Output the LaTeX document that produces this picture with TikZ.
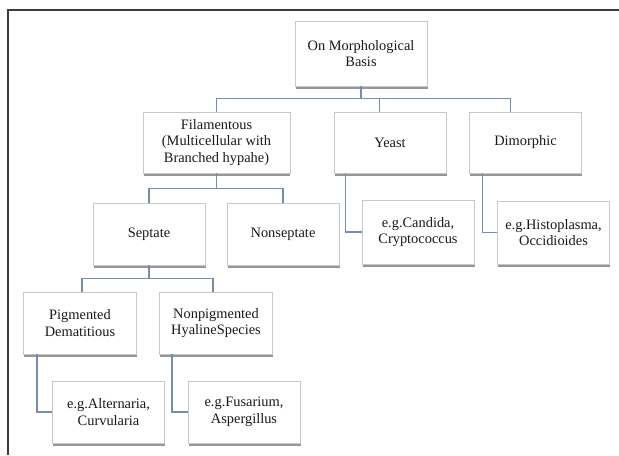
\documentclass[tikz,border=0pt]{standalone}
\usepackage{fontspec}
\setmainfont{Liberation Serif}
\usepackage{xcolor}
\usetikzlibrary{calc,shadows}

\definecolor{linkcol}{RGB}{118,142,172}
\definecolor{framecol}{RGB}{60,60,60}
\definecolor{edgecol}{RGB}{200,200,200}

\tikzset{
  box/.style={draw=edgecol, fill=white, align=center, inner sep=2pt,
    minimum width=84pt, minimum height=46.5pt, text=black!90,
    font=\fontsize{10.8}{12.6}\selectfont,
    drop shadow={shadow xshift=0.4pt, shadow yshift=-2pt, fill=black!75, opacity=0.55}},
  link/.style={draw=linkcol, line width=0.9pt}
}

\begin{document}
\begin{tikzpicture}[x=0.75pt,y=0.75pt,yscale=-1,xscale=1]
	\useasboundingbox (0,0) rectangle (619,455);
	
	%Shape: Frame
	\draw [framecol, line width=1.3pt] (8,455) -- (8,10) -- (619,10) ;
	
	% Text Node
	\node [box, minimum width=99pt, minimum height=49pt] (root) at (361,53.5) {On Morphological\\Basis};
	% Text Node
	\node [box, minimum width=110pt, minimum height=46pt] (fil) at (216.5,142.5) {Filamentous\\(Multicellular with\\Branched hypahe)};
	% Text Node
	\node [box, minimum height=46pt] (yeast) at (390,142.5) {Yeast};
	% Text Node
	\node [box, minimum height=46pt] (dimo) at (525.5,142.5) {Dimorphic};
	% Text Node
	\node [box] (sept) at (149,234) {Septate};
	% Text Node
	\node [box] (nonsept) at (283,234) {Nonseptate};
	% Text Node
	\node [box, minimum height=48pt] (candida) at (418,232) {e.g.Candida,\\Cryptococcus};
	% Text Node
	\node [box, minimum height=47pt] (histo) at (553.5,232.5) {e.g.Histoplasma,\\Occidioides};
	% Text Node
	\node [box, minimum width=85pt] (pigm) at (80,323) {Pigmented\\Dematitious};
	% Text Node
	\node [box, minimum width=85pt] (nonpigm) at (216,323) {Nonpigmented\\HyalineSpecies};
	% Text Node
	\node [box] (alter) at (108.5,412) {e.g.Alternaria,\\Curvularia};
	% Text Node
	\node [box] (fusar) at (244,412) {e.g.Fusarium,\\Aspergillus};
	
	%Straight Lines
	\draw [link] (root.south) -- ++(0,12) coordinate (busA) ;
	\draw [link] (busA) -| (fil.north) ;
	\draw [link] (busA) -| ($(yeast.north west)+(46,0)$) ;
	\draw [link] (busA) -| ($(dimo.north west)+(41,0)$) ;
	%Straight Lines
	\draw [link] (fil.south) -- ++(0,15) coordinate (busB) ;
	\draw [link] (busB) -| (sept.north) ;
	\draw [link] (busB) -| (nonsept.north) ;
	%Straight Lines
	\draw [link] (sept.south) -- ++(0,13) coordinate (busC) ;
	\draw [link] (busC) -| ($(pigm.north)+(2,0)$) ;
	\draw [link] (busC) -| ($(nonpigm.north)+(-3,0)$) ;
	%Straight Lines
	\draw [link] ($(yeast.south west)+(12,0)$) |- (candida.west) ;
	\draw [link] ($(dimo.south west)+(13,0)$) |- (histo.west) ;
	\draw [link] ($(pigm.south west)+(14,0)$) |- (alter.west) ;
	\draw [link] ($(nonpigm.south west)+(13,0)$) |- (fusar.west) ;
	
\end{tikzpicture}
\end{document}
